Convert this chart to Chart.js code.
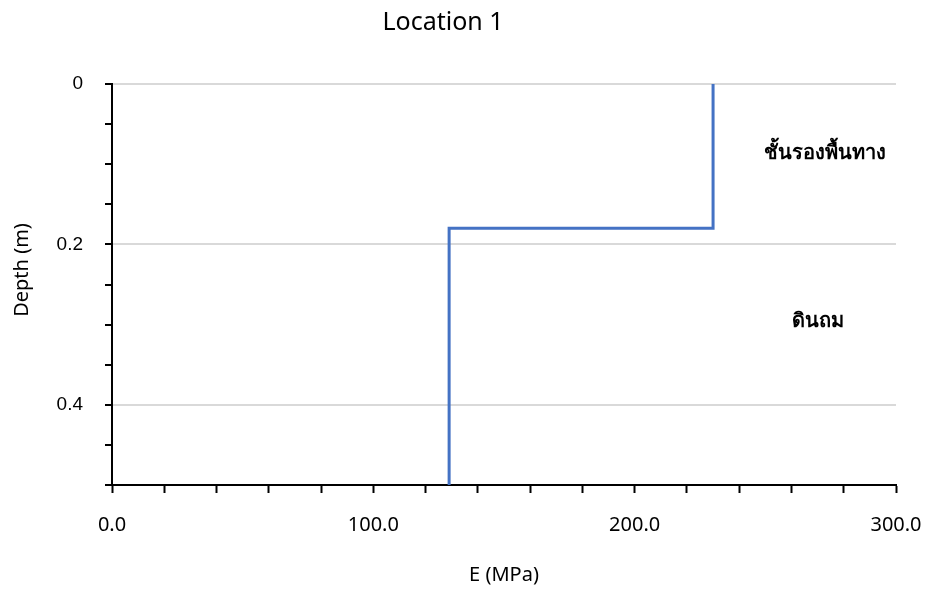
<!DOCTYPE html>
<html>
<head>
<meta charset="utf-8">
<script src="https://cdn.jsdelivr.net/npm/chart.js@4.4.1/dist/chart.umd.min.js"></script>
<style>
  html, body { margin: 0; padding: 0; background: #fff; }
  #wrap { width: 929px; height: 590px; position: relative; }
</style>
</head>
<body>
<div id="wrap"><canvas id="myChart" width="929" height="590"></canvas></div>
<script>
// step profile: modulus vs depth
var modulus = [230, 230, 129, 129];
var depth = [0, 0.18, 0.18, 0.5];

// layer names and where they sit (E, depth)
var layerNames = ['ชั้นรองพื้นทาง', 'ดินถม'];
var layerE = [273, 270];
var layerDepth = [0.087, 0.296];

var chartTitle = 'Location 1';
var xTitle = 'E (MPa)';
var yTitle = 'Depth (m)';

var points = modulus.map(function(e, i) { return { x: e, y: depth[i] }; });

function near(v, step) {
  return Math.abs(v / step - Math.round(v / step)) < 1e-6;
}

var textPlugin = {
  id: 'texts',
  afterDraw: function(chart) {
    var ctx = chart.ctx;
    var xs = chart.scales.x, ys = chart.scales.y;
    ctx.save();
    ctx.fillStyle = '#000';
    ctx.textAlign = 'center';
    ctx.textBaseline = 'middle';
    ctx.font = '25px "Noto Sans", sans-serif';
    ctx.fillText(chartTitle, 443, 23);
    ctx.font = '20px "Noto Sans", sans-serif';
    ctx.fillText(xTitle, 504, 575);
    ctx.save();
    ctx.translate(22, 270);
    ctx.rotate(-Math.PI / 2);
    ctx.fillText(yTitle, 0, 0);
    ctx.restore();
    ctx.font = 'bold 20px "Noto Sans", sans-serif';
    layerNames.forEach(function(name, i) {
      ctx.fillText(name, xs.getPixelForValue(layerE[i]), ys.getPixelForValue(layerDepth[i]));
    });
    ctx.restore();
  }
};

var canvas = document.getElementById('myChart');
var chart = new Chart(canvas.getContext('2d'), {
  type: 'scatter',
  data: {
    datasets: [{
      data: points,
      showLine: true,
      borderColor: '#4472c4',
      borderWidth: 3,
      pointRadius: 0,
      fill: false
    }]
  },
  options: {
    responsive: false,
    animation: false,
    layout: { padding: { top: 84, right: 33, left: 0, bottom: 0 } },
    plugins: {
      legend: { display: false },
      tooltip: { enabled: false }
    },
    scales: {
      x: {
        type: 'linear',
        min: 0,
        max: 300,
        afterFit: function(s) { s.height = 105; s.paddingRight = 0; s.paddingLeft = 0; },
        border: { display: true, color: '#000', width: 2 },
        grid: {
          drawOnChartArea: false,
          drawTicks: true,
          tickLength: 8,
          tickColor: '#000',
          tickWidth: 2
        },
        ticks: {
          stepSize: 20,
          autoSkip: false,
          maxRotation: 0,
          padding: 20,
          color: '#000',
          font: { family: '"Noto Sans", sans-serif', size: 20 },
          callback: function(v) { return near(v, 100) ? v.toFixed(1) : ''; }
        }
      },
      y: {
        type: 'linear',
        reverse: true,
        min: 0,
        max: 0.5,
        afterFit: function(s) { s.width = 112; s.paddingTop = 0; s.paddingBottom = 0; },
        border: { display: true, color: '#000', width: 2 },
        grid: {
          color: function(c) { return c.tick && near(c.tick.value, 0.2) ? '#d9d9d9' : 'rgba(0,0,0,0)'; },
          lineWidth: 2,
          drawTicks: true,
          tickLength: 7,
          tickColor: '#000',
          tickWidth: 2
        },
        ticks: {
          stepSize: 0.05,
          autoSkip: false,
          padding: 22,
          color: '#000',
          font: { family: '"Liberation Sans", Arial, sans-serif', size: 19 },
          callback: function(v) {
            if (!near(v, 0.2)) return '';
            return v === 0 ? '0' : v.toFixed(1);
          }
        }
      }
    }
  },
  plugins: [textPlugin]
});
</script>
</body>
</html>
